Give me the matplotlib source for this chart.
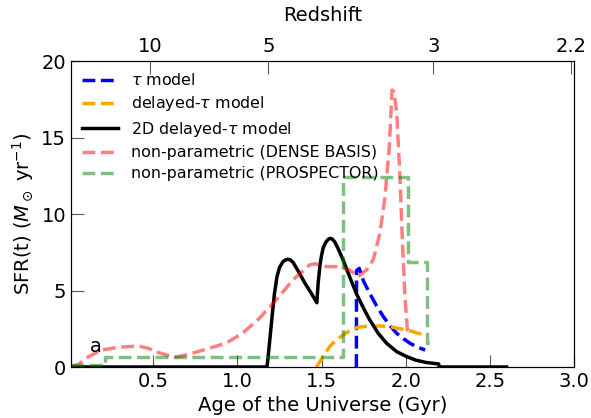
"""SFR histories: parametric vs non-parametric fits."""

import numpy as np
import matplotlib
matplotlib.use("Agg")
import matplotlib.pyplot as plt

# ---------------------------------------------------------------------------
# Data
# ---------------------------------------------------------------------------

# tau model
tau_age = [1.707, 1.708, 1.724, 1.75, 1.787, 1.827, 1.867, 1.907, 1.947,
           1.987, 2.026, 2.07, 2.116]
tau_sfr = [0.0, 6.3, 6.45, 5.6, 4.8, 4.0, 3.3, 2.7, 2.2, 1.85, 1.55, 1.3, 1.11]

# delayed-tau model
dtau_age = [1.47, 1.51, 1.548, 1.59, 1.628, 1.67, 1.717, 1.787, 1.847,
            1.907, 1.967, 2.026, 2.07, 2.116]
dtau_sfr = [0.0, 0.7, 1.33, 1.8, 2.09, 2.4, 2.6, 2.68, 2.68, 2.63, 2.5,
            2.37, 2.22, 2.09]

# 2D delayed-tau model
dtau2d_age = [0.0, 1.176, 1.19, 1.205, 1.22, 1.235, 1.25, 1.27, 1.285, 1.30,
              1.315, 1.33, 1.36, 1.40, 1.44, 1.472, 1.48, 1.49, 1.50, 1.51,
              1.525, 1.54, 1.552, 1.565, 1.58, 1.60, 1.628, 1.667, 1.707,
              1.747, 1.787, 1.837, 1.887, 1.947, 2.006, 2.06, 2.12, 2.196,
              2.2, 2.6]
dtau2d_sfr = [0.0, 0.0, 1.5, 3.2, 4.8, 5.9, 6.5, 6.88, 7.0, 7.04,
              7.0, 6.85, 6.3, 5.5, 4.8, 4.2, 5.5, 6.6, 7.3, 7.8,
              8.15, 8.35, 8.41, 8.35, 8.15, 7.7, 7.0, 5.9, 4.8,
              3.9, 3.07, 2.2, 1.55, 1.0, 0.68, 0.45, 0.3, 0.2,
              0.0, 0.0]

# non-parametric (Dense Basis)
db_age = [0.01, 0.06, 0.114, 0.193, 0.293, 0.412, 0.472, 0.512, 0.56, 0.622,
          0.68, 0.731, 0.831, 0.931, 1.03, 1.13, 1.23, 1.329, 1.429, 1.46,
          1.528, 1.588, 1.628, 1.668, 1.717, 1.767, 1.807, 1.847, 1.877,
          1.903, 1.919, 1.93, 1.947, 1.967, 1.982, 1.996, 2.01, 2.03]
db_sfr = [0.0, 0.2, 0.67, 1.11, 1.29, 1.37, 1.22, 1.0, 0.85, 0.63,
          0.75, 0.9, 1.22, 1.55, 2.2, 3.18, 4.38, 5.69, 6.67, 6.75,
          6.56, 6.56, 6.5, 6.34, 5.9, 6.34, 7.0, 8.74, 11.1,
          14.4, 18.1, 18.0, 16.6, 12.2, 7.86, 4.6, 2.42, 2.2]

# non-parametric (Prospector) step history: bin edges and bin values
prosp_edges = [0.01, 0.213, 1.628, 2.016, 2.126, 2.15]
prosp_sfr = [0.1, 0.67, 12.44, 6.88, 1.55]

# top axis: redshift labels placed at the corresponding age of the Universe
z_labels = ["10", "5", "3", "2.2"]
z_ages = [0.482, 1.184, 2.165, 2.985]

age_ticks = [0.5, 1.0, 1.5, 2.0, 2.5, 3.0]
sfr_ticks = [0, 5, 10, 15, 20]

# ---------------------------------------------------------------------------
# Plot
# ---------------------------------------------------------------------------

fig = plt.figure(figsize=(5.91, 4.18), dpi=100)
ax = fig.add_axes([0.120, 0.122, 0.851, 0.732])

lw = 2.5
ax.plot(tau_age, tau_sfr, ls="--", color="blue", lw=lw, label=r"$\tau$ model")
ax.plot(dtau_age, dtau_sfr, ls="--", color="orange", lw=lw,
        label=r"delayed-$\tau$ model")
ax.plot(dtau2d_age, dtau2d_sfr, ls="-", color="black", lw=lw,
        label=r"2D delayed-$\tau$ model")
ax.plot(db_age, db_sfr, ls="--", color="red", alpha=0.5, lw=lw,
        label="non-parametric (DENSE BASIS)")
ax.plot(prosp_edges, prosp_sfr + [prosp_sfr[-1]], ls="--", color="green",
        alpha=0.5, lw=lw, drawstyle="steps-post",
        label="non-parametric (PROSPECTOR)")

ax.text(0.125, 1.0, "a", fontsize=14)

ax.set_xlim(0.01, 3.0)
ax.set_ylim(0, 20)
ax.set_xticks(age_ticks)
ax.set_yticks(sfr_ticks)
ax.tick_params(direction="in", length=9, labelsize=14, color="0.35")
ax.set_xlabel("Age of the Universe (Gyr)", fontsize=14)
ax.set_ylabel(r"SFR(t) ($M_\odot$ yr$^{-1}$)", fontsize=14)

ax.legend(loc="upper left", frameon=False, fontsize=11.4, handlelength=2.3,
          borderaxespad=0.3, labelspacing=0.4)

top = ax.twiny()
top.set_xlim(ax.get_xlim())
top.set_xticks(z_ages)
top.set_xticklabels(z_labels)
top.tick_params(direction="in", length=9, labelsize=14, color="0.35")
top.set_xlabel("Redshift", fontsize=14, labelpad=12)

fig.savefig("out.png", dpi=100)
